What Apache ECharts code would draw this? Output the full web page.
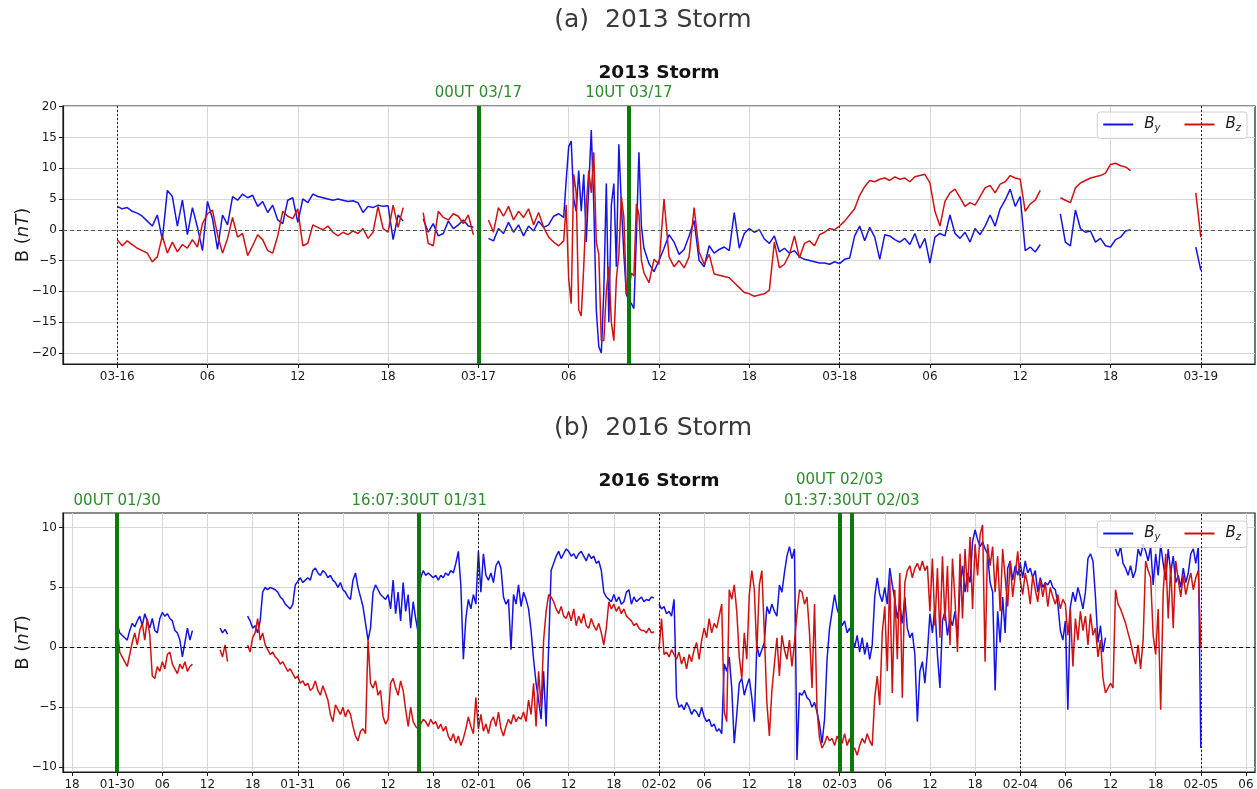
<!DOCTYPE html>
<html><head><meta charset="utf-8">
<script src="https://cdn.jsdelivr.net/npm/echarts@6/dist/echarts.min.js"></script>
<style>html,body{margin:0;padding:0;background:#fff}#c{width:1257px;height:789px}</style>
</head><body><div id="c"></div>
<script>
// ---------- DATA ----------
const STEP_H = 1/3;        // 20-minute samples
const STORM_STEP_H = 1/6;  // 10-minute samples in the storm core

// 2013 storm, hours from 03-16 00UT
// By: 00:00 -> 29:40 (20 min)
const top_By_pre = [
3.8,3.4,3.6, 3.0,2.7,2.2, 1.4,0.6,2.4, -1.6,6.4,5.4, 0.6,4.8,-0.8, 3.6,0.4,-3.4,
4.6,1.8,-3.2, 2.4,0.8,5.4, 4.8,5.8,5.2, 5.6,3.8,4.6, 2.8,4.0,1.6, 1.0,4.8,5.2,
1.2,5.0,4.4, 5.8,5.4,5.2, 5.0,4.8,5.0, 4.8,4.6,4.7, 4.4,2.8,3.8, 3.6,4.0,3.8,
3.9,-1.6,2.4, 1.4,null,null, null,1.8,-0.4, 1.0,-1.0,-0.6, 1.4,0.2,0.8, 1.6,0.6,0.4,
null,null,-1.4, -1.8,0.2,-0.6, 1.2,-0.4,0.8, -1.0,0.6,-0.2, 1.4,0.4,0.8, 2.2,2.6,2.0];
// By: 29:50 -> 34:50 (10 min)
const top_By_storm = [8.0, 13.5,14.4,5.0,3.0,9.6,3.0, 9.0,-2.0,7.0,16.2,4.0,-13.0,
-19.0,-20.0,-10.0,7.5,-15.0,4.0, 7.5,-6.0,13.9,4.0,-4.0,-10.5, -11.5,-12.0,-12.8,-1.0,12.6,0.5];
// By: 35:00 -> 72:00 (20 min)
const top_By_post = [
-3.0,-5.5,-6.8,
-5.0,-3.0,-0.8, -2.0,-4.0,-3.2, -1.0,1.5,-5.0, -6.0,-2.6,-3.8, -3.2,-2.8,-3.4, 2.8,-3.0,-0.6,
0.2,-0.4,0.0, -1.5,-2.2,-1.0, -3.6,-3.0,-3.8, -3.4,-4.4,-4.8, -5.0,-5.2,-5.4, -5.4,-5.6,-5.2,
-5.5,-4.8,-4.6, -1.0,0.6,-1.8, 0.4,-1.2,-4.8, -0.8,-1.0,-1.6, -2.0,-1.4,-2.4, -0.6,-3.0,-1.4,
-5.4,-1.2,-0.6, -1.0,2.4,-0.6, -1.4,-0.4,-2.0, 0.2,-0.8,0.6, 2.4,0.6,3.4, 4.8,6.6,3.8,
5.4,-3.4,-2.8, -3.6,-2.4,null, null,null,2.6, -2.0,-2.6,3.2, 0.2,-0.4,-0.2, -2.0,-1.4,-2.6,
-2.8,-1.6,-1.2, -0.2,0.0,null, null,null,null, null,null,null, null,null,null, null,null,-2.8,
-6.6];
// Bz
const top_Bz_pre = [
-1.6,-2.6,-1.8, -2.4,-3.0,-3.4, -3.8,-5.2,-4.4, -1.0,-3.8,-2.0, -3.6,-2.4,-3.0, -1.6,-2.8,1.0,
2.6,3.2,-0.8, -3.8,-1.4,2.0, -1.2,-0.6,-4.2, -2.6,-0.8,-1.6, -3.4,-3.8,-1.0, 3.0,2.2,1.8,
3.4,-2.6,-2.2, 0.8,0.4,0.0, 0.6,-0.4,-1.0, -0.4,-0.8,-0.2, -0.6,0.2,-1.4, -0.4,3.8,0.2,
-0.4,4.0,0.4, 3.6,null,null, null,2.8,-2.2, -2.6,3.0,2.0, 1.6,2.6,2.2, 1.0,2.4,-0.8,
null,null,1.6, -0.4,3.6,2.2, 3.8,1.6,3.0, 2.0,3.4,0.8, 2.8,0.4,-1.2, -2.0,-2.6,-1.8];
const top_Bz_storm = [4.0, -8.0,-12.0,9.0,6.0,-13.0,-14.0, -6.0,4.0,9.6,6.0,12.6,-2.0,
-4.0,-18.0,-18.0,-10.0,-6.0,-15.0, -18.0,-8.0,-4.0,5.3,2.0,-10.4, -10.0,-7.0,-7.5,4.2,2.5,-5.0];
const top_Bz_post = [
-7.0,-8.6,-4.8,
-5.6,5.0,-4.4, -6.0,-5.0,-6.2, -4.4,3.6,-3.6, -5.6,-4.0,-7.2, -7.4,-7.6,-7.8, -8.6,-9.4,-10.2,
-10.4,-10.8,-10.6, -10.4,-9.8,-2.0, -6.2,-5.6,-4.0, -1.0,-4.6,-2.2, -1.8,-2.6,-0.8, -0.4,0.2,0.0,
0.6,1.4,2.4, 3.4,5.6,7.0, 8.0,7.8,8.2, 8.4,8.0,8.6, 8.2,8.4,7.8, 8.6,8.8,9.0,
7.6,3.0,0.6, 4.6,6.0,6.6, 5.2,3.8,4.4, 4.0,5.4,6.8, 7.2,6.0,7.4, 7.8,8.8,8.4,
8.2,3.0,4.2, 4.8,6.4,null, null,null,5.2, 4.8,4.4,6.8, 7.6,8.0,8.4, 8.6,8.8,9.2,
10.6,10.8,10.4, 10.2,9.6,null, null,null,null, null,null,null, null,null,null, null,null,6.0,
-1.2];
const TOP_STORM_T0 = 29 + 50/60, TOP_POST_T0 = 35;

// 2016 storm, hours from 01-30 00UT (20 min)
const bot_By = [
2.0,1.2,1.0, 0.8,0.6,1.4, 2.0,1.7,2.2, 2.6,1.8,2.8, 2.2,1.6,2.4, 1.4,1.2,2.4,
2.9,2.6,2.8, 2.4,2.2,1.4, 1.2,0.6,-0.8, 0.4,1.6,0.6, 1.4,null,null, null,null,null,
null,null,null, null,null,1.6, 1.2,1.5,1.1, null,null,null, null,null,null, null,2.6,2.2,
1.6,1.8,1.2, 2.2,4.6,5.0, 4.8,5.0,4.9, 4.8,4.6,4.2, 4.0,3.6,3.4, 3.2,3.6,5.2,
5.5,5.8,5.4, 5.6,5.8,5.6, 6.4,6.6,6.2, 6.0,6.4,6.2, 5.8,6.0,5.6, 5.4,5.0,5.4,
4.8,4.6,4.2, 4.0,5.6,6.2, 5.0,4.2,3.4, 2.0,0.6,1.6, 4.6,5.2,4.8, 4.4,4.2,4.0,
4.4,3.2,5.6, 2.8,4.6,2.2, 5.4,3.0,4.4, 1.6,3.8,2.4, 1.2,5.8,6.4, 6.0,6.2,6.0,
5.8,6.0,5.6, 6.0,5.8,6.2, 6.0,6.4,6.2, 7.0,8.0,5.2, -1.0,2.4,4.0, 3.2,4.4,3.6,
8.0,4.6,7.8, 6.0,5.6,6.2, 5.4,6.8,7.2, 6.6,4.2,3.6, 4.0,-0.2,4.4, 3.6,5.2,3.4,
4.6,4.0,3.2, 1.4,-1.0,-3.0, -4.4,-6.0,-2.0, -6.6,0.0,6.4, 7.0,7.6,8.0, 7.4,7.8,8.2,
8.0,7.6,7.8, 7.4,7.8,8.0, 7.6,7.2,7.8, 7.4,7.6,7.0, 7.2,6.4,4.6, 4.2,4.0,3.8,
4.4,3.8,4.2, 3.6,3.8,4.6, 4.8,3.6,4.2, 3.8,4.0,4.2, 3.8,4.0,3.9, 4.2,4.1,null,
3.6,3.2,3.4, 2.8,3.0,2.6, 4.0,-4.2,-5.0, -4.8,-5.2,-4.6, -5.0,-5.6,-5.2, -5.4,-5.8,-5.0,
-5.8,-6.2,-6.0, -6.6,-6.4,-7.0, -6.8,-7.2,-1.4, -2.0,-0.8,-3.4, -8.0,-5.6,-3.0, -2.6,-4.0,-3.2,
-2.6,-4.2,-6.2, 0.2,-0.8,-0.2, 0.4,3.4,2.8, 3.6,3.0,2.6, 5.2,4.6,6.2, 7.6,8.4,7.4,
8.2,-9.4,-3.8, -4.0,-3.6,-4.2, -4.4,-5.0,-4.6, -5.4,-6.4,-8.0, -6.0,-1.0,1.6, 3.0,4.4,3.2,
2.6,1.8,2.2, 1.2,1.6,0.8, 0.0,1.0,-0.4, 0.8,-0.6,0.4, -1.0,0.2,4.2, 5.8,4.4,3.8,
5.0,3.6,6.6, 5.2,4.0,2.4, 3.6,2.0,4.2, 1.6,0.8,1.2, -0.6,-6.2,-2.0, -1.2,-3.0,-0.4,
2.8,1.2,3.4, -0.6,-3.4,2.2, 3.0,1.0,2.4, 1.8,3.0,0.8, 5.0,6.8,4.6, 6.2,5.4,8.8,
9.8,9.0,8.4, 8.8,8.2,7.8, 5.4,4.6,-3.6, 3.0,0.4,4.2, 1.2,6.6,7.2, 5.6,6.8,6.0,
7.0,5.8,7.2, 6.2,6.6,5.8, 6.4,4.6,5.8, 5.0,5.4,5.2, 5.6,5.0,4.8, 3.6,1.4,0.6,
2.2,-5.2,3.4, 4.6,3.8,5.0, 4.2,3.2,4.6, 7.4,7.8,7.2, 4.2,0.4,1.8, -0.4,0.8,null,
null,null,8.2, 7.6,8.4,7.0, 6.6,6.0,6.8, 5.8,6.4,8.2, 7.6,8.6,8.0, 7.2,8.4,5.2,
7.8,6.0,8.6, 7.0,5.6,8.2, 6.2,7.6,5.4, 6.0,5.0,6.6, 5.4,6.2,7.8, 8.2,7.0,8.4,
-8.4];
const bot_Bz = [
1.8,-0.4,-0.8, -1.2,-1.6,-0.6, 0.4,1.2,0.2, 1.4,2.0,0.6, 2.4,1.0,-2.4, -2.6,-1.6,-2.0,
-1.2,-1.8,-0.6, -0.4,-1.4,-1.8, -2.2,-1.4,-1.8, -1.2,-2.0,-1.6, -1.4,null,null, null,null,null,
null,null,null, null,null,-0.2, -0.8,0.2,-1.2, null,null,null, null,null,null, null,0.2,-0.4,
0.8,1.2,2.4, 0.6,1.2,0.2, -0.2,-0.6,-0.4, -0.8,-1.0,-1.4, -1.2,-1.6,-2.0, -1.8,-2.2,-2.6,
-2.4,-3.0,-2.8, -3.2,-3.0,-3.6, -3.4,-2.8,-3.6, -4.0,-3.2,-3.8, -4.4,-5.6,-6.2, -4.8,-5.2,-5.6,
-5.0,-5.8,-5.2, -5.6,-6.6,-7.4, -7.8,-7.0,-6.8, -7.2,0.6,-3.0, -3.4,-2.8,-4.0, -3.6,-5.8,-6.4,
-6.0,-3.0,-2.6, -3.4,-4.0,-2.8, -3.6,-5.2,-6.6, -5.0,-6.2,-6.6, -6.8,-6.4,-6.0, -6.2,-6.6,-6.0,
-6.4,-6.2,-6.8, -6.4,-7.0,-6.6, -7.4,-7.8,-7.2, -8.0,-7.4,-8.2, -7.6,-6.8,-5.8, -6.6,-7.2,-4.2,
-6.8,-5.6,-7.0, -6.4,-7.2,-6.2, -5.8,-6.6,-5.4, -6.8,-7.4,-6.6, -6.0,-6.4,-5.6, -6.2,-5.8,-6.0,
-5.4,-6.2,-4.4, -5.6,-3.0,-6.6, -2.0,-5.0,0.6, 3.0,4.4,4.2, 3.8,3.2,2.8, 3.4,2.6,2.4,
3.0,2.2,3.2, 1.8,2.6,2.0, 2.8,1.8,1.6, 2.4,1.8,1.4, 2.0,1.2,0.2, 1.6,3.8,3.2,
3.6,3.0,3.4, 2.8,3.2,2.6, 2.4,2.2,1.8, 2.0,1.6,1.4, 1.4,1.2,1.6, 1.2,1.3,null,
-0.2,2.4,-0.6, -0.4,-0.8,-0.2, -0.6,-1.0,-0.4, -1.4,-0.8,-1.8, -0.6,-1.2,-0.2, 0.4,-1.0,0.6,
1.6,0.8,2.4, 1.2,2.0,1.6, 2.6,3.6,-5.4, -6.2,4.8,4.0, 5.2,3.0,-0.8, -2.6,1.2,-1.0,
4.4,6.4,4.8, -0.4,5.2,6.4, 1.2,-4.6,-7.4, -3.6,-1.4,0.8, -2.4,1.0,-0.2, -1.0,0.6,-1.6,
0.4,2.8,4.8, 4.6,3.6,4.2, 1.2,-3.4,3.6, -5.2,-7.6,-8.4, -8.0,-7.4,-7.8, -7.6,-8.2,-7.4,
-7.8,-8.0,-7.2, -8.2,-7.6,-8.6, -8.4,-9.0,-8.2, -7.6,-8.0,-7.2, -7.8,-8.2,-4.2, -2.4,-4.8,1.2,
3.4,-2.0,5.8, -3.8,4.8,-1.0, 6.2,-4.2,5.4, 6.4,6.8,5.8, 6.6,7.0,6.4, 7.2,6.4,6.8,
3.0,7.4,1.8, 6.6,0.8,7.6, 2.2,6.8,0.2, 7.4,4.0,-0.4, 7.8,2.4,8.2, 4.6,9.2,3.2,
8.6,6.0,9.4, 10.2,-1.2,8.6, 6.8,8.4,4.6, 7.6,3.0,8.2, 5.8,3.4,7.2, 4.2,6.0,8.0,
5.6,4.4,6.2, 5.2,3.6,6.0, 4.8,3.8,5.6, 4.2,5.4,3.4, 5.0,4.2,3.6, 4.4,3.2,4.0,
3.6,1.0,3.2, -1.6,2.4,0.6, 3.0,1.4,2.6, 0.2,2.8,1.0, 1.6,-0.8,0.6, -2.6,-3.8,-3.4,
-3.0,-3.4,4.8, 3.6,3.2,2.6, 2.0,1.2,0.4, -0.6,-1.4,0.2, -1.8,0.6,7.2, 6.4,5.8,1.0,
-0.6,3.2,-5.2, 4.6,7.8,2.4, 6.8,1.6,7.2, 5.6,4.2,6.0, 4.4,5.4,6.2, 4.8,5.8,6.4,
0.0];

// ticks
const topTickHours = [0,6,12,18,24,30,36,42,48,54,60,66,72];
const topTickLabels = ['03-16','06','12','18','03-17','06','12','18','03-18','06','12','18','03-19'];
const botTickHours = [-6,0,6,12,18,24,30,36,42,48,54,60,66,72,78,84,90,96,102,108,114,120,126,132,138,144,150];
const botTickLabels = ['18','01-30','06','12','18','01-31','06','12','18','02-01','06','12','18','02-02','06','12','18','02-03','06','12','18','02-04','06','12','18','02-05','06'];
const topYTicks = [-20,-15,-10,-5,0,5,10,15,20];
const botYTicks = [-10,-5,0,5,10];
const topDayLines = [0,24,48,72];
const botDayLines = [0,24,48,72,96,120,144];
// event markers
const topEventHours = [24,34];
const topEventLabels = ['00UT 03/17','10UT 03/17'];
const botEventHours = [0,40.125,96,97.625];
const botEventLabels = ['00UT 01/30','16:07:30UT 01/31','00UT 02/03','01:37:30UT 02/03'];

// ---------- CHART ----------
const FONT = 'DejaVu Sans';
const BLUE = '#1414e6', RED = '#d01212', GREEN = '#0b7a0b', GREEN_TXT = '#2e8b2e';
const topLabelGap = [5,5];
const botLabelGap = [4,4,25,4];

function toPairs(vals, t0, step){ return vals.map((v,i)=>[Math.round((t0 + i*step)*1e6)/1e6, v]); }
function fmtNum(v){ return v<0 ? '\u2212'+Math.abs(v) : String(v); }

function xAxisCfg(gi, min, max, ticks, labels){
  return {type:'value', gridIndex:gi, min, max,
    axisLine:{show:true, onZero:false, lineStyle:{color:'#1a1a1a', width:1.2}},
    axisTick:{show:true, customValues:ticks, length:4, lineStyle:{color:'#1a1a1a'}},
    axisLabel:{customValues:ticks, margin:7, fontFamily:FONT, fontSize:12, color:'#1a1a1a',
      formatter:(v)=>{const k=ticks.indexOf(Math.round(v)); return k>=0?labels[k]:'';}},
    splitLine:{show:true, lineStyle:{color:'#d6d6d6', width:1}}};
}
function yAxisCfg(gi, min, max, ticks){
  return {type:'value', gridIndex:gi, min, max,
    name:'{n|B (}{i|nT}{n|)}', nameLocation:'middle', nameGap:31, nameRotate:90, nameMoveOverlap:false,
    nameTextStyle:{rich:{n:{fontFamily:FONT, fontSize:18, color:'#1a1a1a'}, i:{fontFamily:FONT, fontSize:18, fontStyle:'italic', color:'#1a1a1a'}}},
    axisLine:{show:true, onZero:false, lineStyle:{color:'#1a1a1a', width:1.2}},
    axisTick:{show:true, customValues:ticks, length:4, lineStyle:{color:'#1a1a1a'}},
    axisLabel:{customValues:ticks, margin:6, fontFamily:FONT, fontSize:12, color:'#1a1a1a', formatter:fmtNum},
    splitLine:{show:true, lineStyle:{color:'#d6d6d6', width:1}}};
}
function dataSeries(name, gi, pairs, color){
  return {name, type:'line', xAxisIndex:gi, yAxisIndex:gi, data:pairs,
    showSymbol:false, symbol:'none', connectNulls:false, animation:false, z:2,
    color, itemStyle:{color}, lineStyle:{color, width:1.5}};
}
function refSeries(gi, dayLines, zeroColor){
  return {type:'line', xAxisIndex:gi, yAxisIndex:gi, data:[], z:1, silent:true, animation:false,
    markLine:{symbol:['none','none'], silent:true, animation:false, label:{show:false},
      data:[{yAxis:0, lineStyle:{type:[4,3], color:zeroColor, width:1.1}}]
        .concat(dayLines.map(d=>({xAxis:d, lineStyle:{type:[2,2], color:'#222', width:1}})))}};
}
function eventSeries(gi, hours, labels, gaps){
  return {type:'line', xAxisIndex:gi, yAxisIndex:gi, data:[], z:5, silent:true, animation:false,
    markLine:{symbol:['none','none'], silent:true, animation:false,
      lineStyle:{color:GREEN, width:4, type:'solid'},
      data:hours.map((h,k)=>({xAxis:h, label:{show:true, position:'end', formatter:labels[k], distance:gaps[k],
        color:GREEN_TXT, fontFamily:FONT, fontSize:15}}))}};
}
function legendCfg(top){
  return {data:['By','Bz'], right:10, top, orient:'horizontal', icon:'rect', itemWidth:30, itemHeight:2, itemGap:24,
    padding:[5,6,5,6], borderColor:'#d0d0d0', borderWidth:1, borderRadius:3, backgroundColor:'rgba(255,255,255,0.8)',
    formatter:(n)=> n==='By' ? '{b|B}{s|y}' : '{b|B}{s|z}',
    textStyle:{padding:[0,0,0,6], rich:{b:{fontFamily:FONT, fontSize:15, fontStyle:'italic', color:'#1a1a1a', lineHeight:18},
      s:{fontFamily:FONT, fontSize:10, fontStyle:'italic', color:'#1a1a1a', lineHeight:18, verticalAlign:'bottom', padding:[6,0,0,0]}}}};
}
function textEl(x, y, text, size, weight, family, color){
  return {type:'text', x, y, silent:true, style:{text, align:'center', verticalAlign:'middle', fontSize:size, fontWeight:weight, fontFamily:family, fill:color}};
}

const topByPairs = toPairs(top_By_pre, 0, STEP_H).concat(toPairs(top_By_storm, TOP_STORM_T0, STORM_STEP_H), toPairs(top_By_post, TOP_POST_T0, STEP_H));
const topBzPairs = toPairs(top_Bz_pre, 0, STEP_H).concat(toPairs(top_Bz_storm, TOP_STORM_T0, STORM_STEP_H), toPairs(top_Bz_post, TOP_POST_T0, STEP_H));

const chart = echarts.init(document.getElementById('c'), null, {renderer:'canvas'});
chart.setOption({
  animation:false,
  backgroundColor:'#ffffff',
  graphic:[
    textEl(653, 20, '(a)  2013 Storm', 25, 'normal', FONT, '#3a3a3a'),
    textEl(659, 73, '2013 Storm', 18.5, 'bold', FONT, '#111'),
    textEl(653, 428, '(b)  2016 Storm', 25, 'normal', FONT, '#3a3a3a'),
    textEl(659, 481, '2016 Storm', 18.5, 'bold', FONT, '#111')
  ],
  grid:[
    {left:63, top:106, width:1192, height:258, show:true, borderColor:'#1a1a1a', borderWidth:1.2, backgroundColor:'#fff', outerBoundsMode:'none', containLabel:false},
    {left:63, top:513, width:1192, height:259, show:true, borderColor:'#1a1a1a', borderWidth:1.2, backgroundColor:'#fff', outerBoundsMode:'none', containLabel:false}
  ],
  xAxis:[ xAxisCfg(0, -3.6, 75.6, topTickHours, topTickLabels), xAxisCfg(1, -7.2, 151.2, botTickHours, botTickLabels) ],
  yAxis:[ yAxisCfg(0, -21.8, 20.1, topYTicks), yAxisCfg(1, -10.4, 11.2, botYTicks) ],
  legend:[ legendCfg(112), legendCfg(521) ],
  series:[
    refSeries(0, topDayLines, '#555'),
    refSeries(1, botDayLines, '#111'),
    dataSeries('By', 0, topByPairs, BLUE),
    dataSeries('Bz', 0, topBzPairs, RED),
    dataSeries('By', 1, toPairs(bot_By, 0, STEP_H), BLUE),
    dataSeries('Bz', 1, toPairs(bot_Bz, 0, STEP_H), RED),
    eventSeries(0, topEventHours, topEventLabels, topLabelGap),
    eventSeries(1, botEventHours, botEventLabels, botLabelGap)
  ]
});
</script></body></html>
